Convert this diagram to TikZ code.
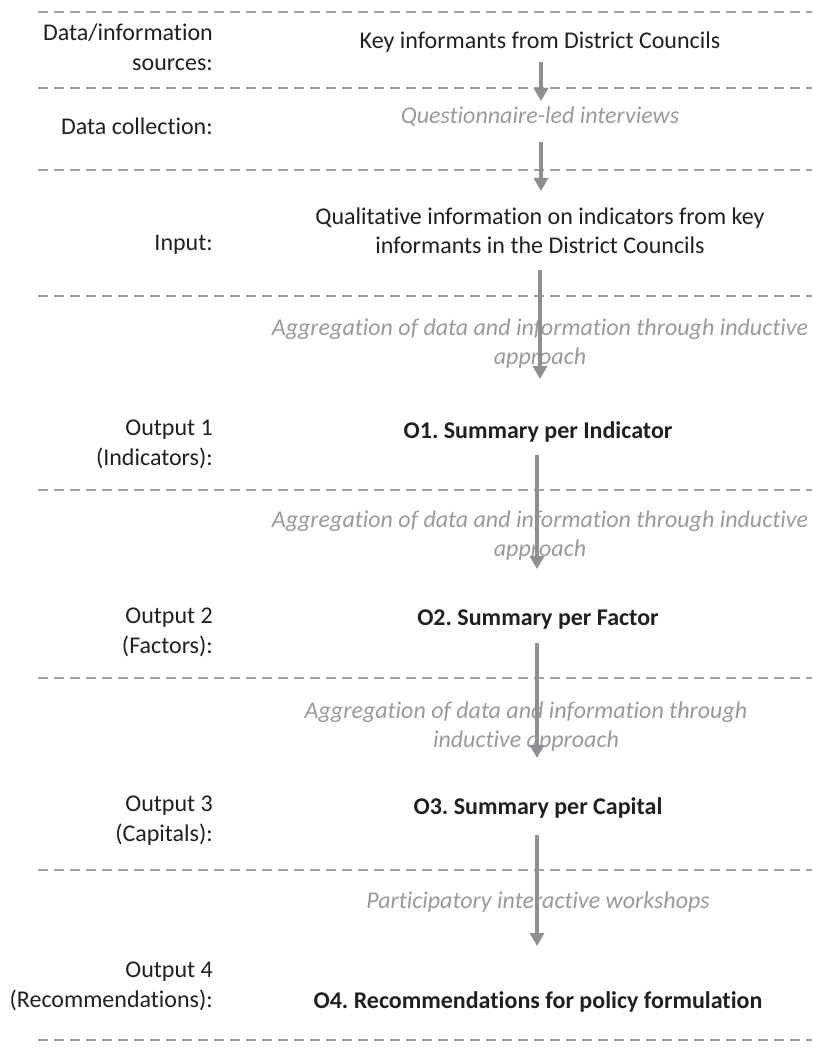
\documentclass[tikz,border=0pt]{standalone}
\usepackage{fontspec}
\setmainfont{Carlito}[Ligatures={NoCommon,NoDiscretionary,NoContextual}]
\usetikzlibrary{arrows.meta}
\definecolor{dashgray}{HTML}{A0A0A0}
\definecolor{arrgray}{HTML}{8E8E93}
\definecolor{itgray}{HTML}{9A9A9A}
\definecolor{txt}{HTML}{231F20}
\frenchspacing
\tikzset{
  sep/.style={dashgray,line width=1.6pt,dash pattern=on 10pt off 6pt},
  lab/.style={anchor=east,align=right,font=\fontsize{24}{30}\selectfont,text=txt,inner sep=0pt},
  main/.style={align=center,font=\fontsize{24}{29}\selectfont,text=txt,inner sep=0pt},
  bmain/.style={main,font=\fontsize{24}{29}\selectfont\bfseries},
  proc/.style={align=center,font=\fontsize{24}{29}\selectfont\itshape,text=itgray,inner sep=0pt},
  arr/.style={arrgray,line width=4pt,-{Triangle[width=14pt,length=13pt]}}
}
\begin{document}
\begin{tikzpicture}[x=1pt,y=-1pt]
\useasboundingbox (0,0) rectangle (812,1048);
% separators
\foreach \yy/\nm in {12/s0,88/s1,170/s2,296/s3,490/s4,678/s5,870/s6,1040/s7}{
  \coordinate (\nm l) at (38,\yy);
  \coordinate (\nm r) at (812,\yy);
  \draw[sep] (\nm l) -- (\nm r);
}
% left labels
\node[lab] (l0) at (213,47) {Data/information\\sources:};
\node[lab] (l1) at (213,126) {Data collection:};
\node[lab] (l2) at (213,245) {Input:};
\node[lab] (l3) at (213,444) {Output 1\\(Indicators):};
\node[lab] (l4) at (213,632) {Output 2\\(Factors):};
\node[lab] (l5) at (213,821) {Output 3\\(Capitals):};
\node[lab] (l6) at (213,986) {Output 4\\(Recommendations):};
% centre texts
\node[main] (k) at (540,42) {Key informants from District Councils};
\node[proc] (q) at (540,117) {Questionnaire-led interviews};
\node[main] (inp) at (540,231) {Qualitative information on indicators from key\\informants in the District Councils};
\node[proc] (ag1) at (540,344) {Aggregation of data and information through inductive\\approach};
\node[bmain] (o1) at (538,432) {O1. Summary per Indicator};
\node[proc] (ag2) at (540,536) {Aggregation of data and information through inductive\\approach};
\node[bmain] (o2) at (538,620) {O2. Summary per Factor};
\node[proc] (ag3) at (526,727) {Aggregation of data and information through\\inductive approach};
\node[bmain] (o3) at (538,808) {O3. Summary per Capital};
\node[proc] (pw) at (538,902) {Participatory interactive workshops};
\node[bmain] (o4) at (538,1002) {O4. Recommendations for policy formulation};
% arrow coordinates
\coordinate (a1s) at (541,62);  \coordinate (a1e) at (541,101);
\coordinate (a2s) at (541,142); \coordinate (a2e) at (541,191);
\coordinate (a3s) at (540,270); \coordinate (a3e) at (540,379);
\coordinate (a4s) at (537,455); \coordinate (a4e) at (537,569);
\coordinate (a5s) at (537,643); \coordinate (a5e) at (537,758);
\coordinate (a6s) at (537,835); \coordinate (a6e) at (537,946);
\draw[arr] (a1s) -- (a1e);
\draw[arr] (a2s) -- (a2e);
\draw[arr] (a3s) -- (a3e);
\draw[arr] (a4s) -- (a4e);
\draw[arr] (a5s) -- (a5e);
\draw[arr] (a6s) -- (a6e);
\end{tikzpicture}
\end{document}
